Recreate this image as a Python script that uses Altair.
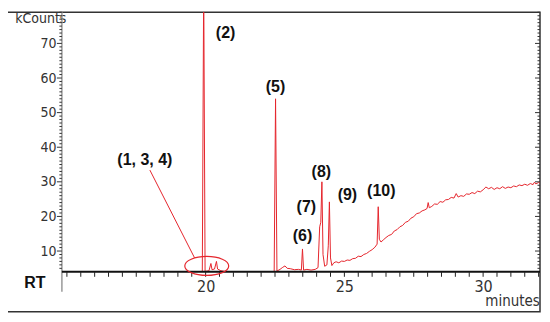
import altair as alt
import pandas as pd

# ---- chromatogram trace (minutes, kCounts) ----
time_min = [14.82, 19.88, 19.93, 19.98, 20.12, 20.19, 20.23, 20.32, 20.39, 20.43, 20.55, 20.75,
            22.47, 22.52, 22.57, 22.68, 22.78, 22.86, 22.94, 23.05, 23.2, 23.35, 23.45, 23.49, 23.53,
            23.65, 23.8, 23.95, 24.05, 24.11, 24.15, 24.19, 24.23, 24.29, 24.37, 24.42, 24.46, 24.50,
            24.55, 24.62, 24.7, 24.8, 24.9, 25.0, 25.1, 25.2, 25.3, 25.4, 25.5, 25.6, 25.7, 25.8, 25.9,
            26.0, 26.1, 26.18, 26.22, 26.26, 26.32, 26.4, 26.5, 26.6, 26.7, 26.8, 26.9, 27.0, 27.1,
            27.2, 27.3, 27.4, 27.5, 27.6, 27.7, 27.8, 27.9, 27.98, 28.02, 28.06, 28.15, 28.25, 28.35,
            28.45, 28.55, 28.65, 28.75, 28.85, 28.95, 29.03, 29.1, 29.2, 29.3, 29.4, 29.5, 29.6, 29.7,
            29.8, 29.9, 30.0, 30.1, 30.2, 30.3, 30.4, 30.5, 30.6, 30.7, 30.8, 30.9, 31.0, 31.1, 31.2,
            31.3, 31.4, 31.5, 31.6, 31.7, 31.8, 31.85, 31.9, 32.0, 32.05]
kcounts = [4.0, 4.0, 88.0, 4.1, 4.3, 6.4, 4.6, 4.8, 7.0, 4.8, 4.3, 4.0,
           4.0, 54.0, 4.2, 4.7, 5.3, 5.7, 5.0, 4.9, 4.6, 4.7, 4.5, 10.6, 4.5,
           4.7, 4.5, 4.7, 5.2, 17.0, 18.3, 30.0, 9.0, 5.6, 6.0, 11.5, 24.2, 8.0,
           5.8, 6.6, 6.9, 6.6, 7.1, 7.0, 7.4, 7.3, 7.8, 7.9, 8.5, 8.4, 9.0, 9.3, 9.9,
           10.4, 11.1, 12.0, 22.8, 13.4, 12.6, 13.2, 13.9, 14.5, 14.8, 15.8, 16.2, 17.0, 17.4,
           18.3, 18.6, 19.5, 19.9, 20.8, 21.0, 21.6, 21.9, 22.3, 24.0, 22.5, 22.9, 23.6, 23.5,
           24.3, 24.1, 24.8, 24.9, 25.5, 25.3, 26.6, 25.6, 26.0, 25.8, 26.5, 26.4, 26.9, 26.6,
           27.3, 27.1, 27.7, 28.5, 28.0, 28.4, 27.8, 28.3, 28.0, 28.6, 28.1, 28.5, 28.3, 28.8, 28.6,
           29.1, 28.9, 29.3, 29.0, 29.5, 29.2, 29.9, 29.4, 29.8, 29.6]

# ---- peak annotations ----
peak_labels = ["(1, 3, 4)", "(2)", "(5)", "(6)", "(7)", "(8)", "(9)", "(10)"]
label_x = [17.81, 20.72, 22.52, 23.49, 23.63, 24.17, 25.11, 26.33]
label_y = [36.3, 72.9, 57.3, 14.4, 22.8, 32.85, 26.2, 27.4]

# circled region of peaks 1,3,4 and the leader line to its label
ellipse_x = [20.04]
ellipse_y = [5.7]
leader_x = [17.99]
leader_y = [33.4]
leader_x2 = [19.60]
leader_y2 = [8.05]

# ---- axes ----
x_domain = [14.82, 32.05]
y_domain = [4, 79]
x_tick_values = [15 + 0.5 * i for i in range(35)]
x_labelled = [20, 25, 30]
y_labelled = [10, 20, 30, 40, 50, 60, 70]
y_minor_values = [v for v in range(5, 80) if v not in y_labelled]

W, H = 479, 260
PX_X = (x_domain[1] - x_domain[0]) / W      # minutes per pixel
PX_Y = (y_domain[1] - y_domain[0]) / H      # kCounts per pixel
FONT = "DejaVu Sans Condensed, Liberation Sans Narrow, Liberation Sans, Arial"
RED = "#e5262d"
x0, x1 = x_domain
y0, y1 = y_domain

trace = pd.DataFrame({"t": time_min, "k": kcounts})
labels = pd.DataFrame({"t": label_x, "k": label_y, "txt": peak_labels})
ell = pd.DataFrame({"t": ellipse_x, "k": ellipse_y})
lead = pd.DataFrame({"t": leader_x, "k": leader_y, "t2": leader_x2, "k2": leader_y2})

# tick segments: each tick is a short segment positioned through the scales
xt = pd.DataFrame({"t": x_tick_values, "t2": x_tick_values,
                   "k": [y0] * len(x_tick_values),
                   "k2": [y0 - 5 * PX_Y] * len(x_tick_values)})


def y_tick_frame(vals, t_from, t_to):
    return pd.DataFrame({"t": [t_from] * len(vals), "t2": [t_to] * len(vals),
                         "k": vals, "k2": vals})


yt = pd.concat([
    y_tick_frame(y_labelled, x0 - 5 * PX_X, x0),
    y_tick_frame(y_minor_values, x0 - 2.5 * PX_X, x0),
    y_tick_frame(y_labelled, x1 - 5 * PX_X, x1),
    y_tick_frame(y_minor_values, x1 - 2.5 * PX_X, x1),
], ignore_index=True)
one = pd.DataFrame({"a": [0]})

xs = alt.Scale(domain=x_domain, nice=False, zero=False)
ys = alt.Scale(domain=y_domain, nice=False, zero=False)

x_lab_test = " || ".join(f"datum.value == {v}" for v in x_labelled)

x_axis = alt.Axis(
    values=x_tick_values, format="d", labelOverlap=False,
    labelExpr=f"({x_lab_test}) ? datum.label : ''",
    ticks=False, domain=False, grid=False,
    labelFont=FONT, labelFontSize=16, labelColor="#333", labelPadding=7,
    title="minutes", titleX=451, titleY=29, titleAlign="center", titleBaseline="middle",
    titleFont=FONT, titleFontSize=15, titleFontWeight="normal", titleColor="#333",
)
y_axis = alt.Axis(
    values=y_labelled, format="d", labelOverlap=False,
    ticks=False, domain=False, grid=False,
    labelFont=FONT, labelFontSize=14, labelColor="#333", labelPadding=6,
    title="kCounts", titleAngle=0, titleAlign="right", titleBaseline="middle",
    titleX=4, titleY=6, titleFont=FONT, titleFontSize=14, titleFontWeight="normal",
    titleColor="#333",
)


def xd(v):
    return alt.X(datum=v, scale=xs, axis=None)


def x2d(v):
    return alt.X2(datum=v)


def yd(v):
    return alt.Y(datum=v, scale=ys, axis=None)


def y2d(v):
    return alt.Y2(datum=v)


def seg(df, color, width):
    return alt.Chart(df).mark_rule(color=color, strokeWidth=width).encode(
        x=alt.X("t:Q", scale=xs, axis=None), x2="t2:Q",
        y=alt.Y("k:Q", scale=ys, axis=None), y2="k2:Q",
    )


frame = alt.Chart(one).mark_rect(filled=False, stroke="#333", strokeWidth=1.5).encode(
    x=xd(x0 - 55 * PX_X), x2=x2d(x1), y=yd(y1), y2=y2d(y0 - 40 * PX_Y)
)
line = alt.Chart(trace).mark_line(color=RED, strokeWidth=1, clip=True).encode(
    x=alt.X("t:Q", scale=xs, axis=x_axis),
    y=alt.Y("k:Q", scale=ys, axis=y_axis),
)
y_line = alt.Chart(one).mark_rule(color="#999", strokeWidth=1.5).encode(
    x=xd(x0), y=yd(y1), y2=y2d(y0 - 20 * PX_Y)
)
x_line = alt.Chart(one).mark_rule(color="#111", strokeWidth=2).encode(
    x=xd(x0), x2=x2d(x1), y=yd(y0)
)
x_ticks = seg(xt, "#222", 1)
y_ticks = seg(yt, "#333", 1)
rt = alt.Chart(one).mark_text(text="RT", font="Liberation Sans", fontSize=16,
                              fontWeight="bold", color="#111").encode(
    x=xd(x0 - 27 * PX_X), y=yd(y0 - 11 * PX_Y)
)
txt = alt.Chart(labels).mark_text(font="Liberation Sans", fontSize=16, fontWeight="bold",
                                  color="#111", baseline="middle").encode(
    x=alt.X("t:Q", scale=xs, axis=None),
    y=alt.Y("k:Q", scale=ys, axis=None),
    text="txt:N",
)
ellipse_path = "M-1,0A1,0.43,0,1,0,1,0A1,0.43,0,1,0,-1,0Z"
circ = alt.Chart(ell).mark_point(shape=ellipse_path, filled=False, size=1936,
                                 color=RED, strokeWidth=1.2, opacity=1).encode(
    x=alt.X("t:Q", scale=xs, axis=None),
    y=alt.Y("k:Q", scale=ys, axis=None),
)
leader = seg(lead, RED, 1)

chart = alt.layer(
    frame, line, y_line, x_line, x_ticks, y_ticks, rt, txt, circ, leader
).resolve_axis(
    x="independent", y="independent"
).properties(
    width=W, height=H,
    autosize=alt.AutoSizeParams(type="none"),
    padding={"left": 54, "top": 4, "right": 2, "bottom": 42},
    background="white",
).configure_view(stroke=None)

chart.save("out.html", embed_options={"renderer": "svg", "actions": False})
